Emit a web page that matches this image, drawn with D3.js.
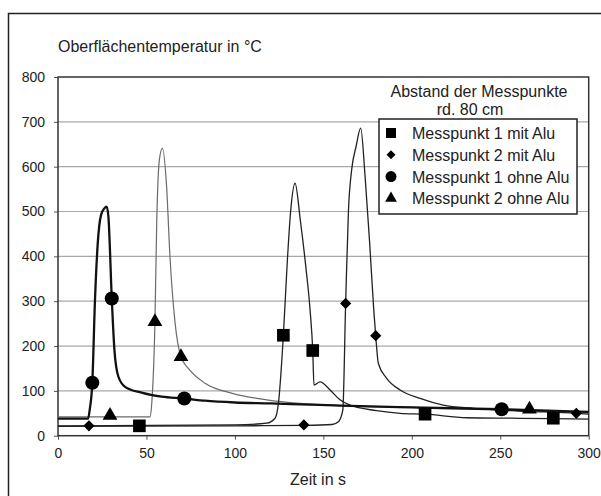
<!DOCTYPE html>
<html><head><meta charset="utf-8">
<script src="https://cdn.jsdelivr.net/npm/d3@7"></script>
<style>
html,body{margin:0;padding:0;background:#fff;}
svg text{font-family:"Liberation Sans",Arial,sans-serif;fill:#222;}
</style>
</head><body>
<svg id="chart" width="601" height="496"></svg>
<script>
// ---- data ----
const xTicks = [0, 50, 100, 150, 200, 250, 300];
const yTicks = [0, 100, 200, 300, 400, 500, 600, 700, 800];
const seriesNames = ["Messpunkt 1 mit Alu", "Messpunkt 2 mit Alu", "Messpunkt 1 ohne Alu", "Messpunkt 2 ohne Alu"];

// Messpunkt 1 mit Alu (squares)
const mp1AluT = [0,100,118,122.7,124.6,127.4,129.5,131.5,134,137,140,142.5,144,144.7,148.1,153.8,159.4,165.1,180,193.4,207.5,231,256.5,280,300];
const mp1AluV = [22,24,28,39,72,224,380,500,563,480,380,280,190,113,120,102,80,68,56,50,48,40,39,38,37];
const mp1AluMarkT = [46,127.4,144,207.5,280];
const mp1AluMarkV = [22,224,190,48,39];

// Messpunkt 2 mit Alu (diamonds)
const mp2AluT = [0,100,140,155,158.5,161,162.6,164.2,166,168.5,171.1,173.6,176.2,178.5,179.6,181.1,185.8,193.4,204.7,217.8,234.8,260,293,300];
const mp2AluV = [21,22,23,25,31,57,295,503,593,645,686,578,429,280,223,161,128,102,83,68,61,55,50,48];
const mp2AluMarkT = [17.5,139,162.6,179.6,293];
const mp2AluMarkV = [22,24,295,223,50];

// Messpunkt 1 ohne Alu (circles)
const mp1OhneT = [0,17,18,19.4,20.9,22.4,24.3,26.2,27.5,28.5,30.4,31.9,34.1,37.9,47.3,58.6,71.4,83,100,120,137,160,200,250,300];
const mp1OhneV = [38,38,60,118,302,425,492,507,511,488,306,191,132,109,96,87,83,78,74,72,70,67,63,59,53];
const mp1OhneMarkT = [19.4,30.4,71.4,250.8];
const mp1OhneMarkV = [118,306,83,59];

// Messpunkt 2 ohne Alu (triangles)
const mp2OhneT = [0,52,53,54.8,55.8,57.3,59,61.4,63.3,66.2,69.5,73.7,83.1,99.1,118,137,160,200,250,300];
const mp2OhneV = [42,42,72,254,474,615,641,555,399,251,176,150,117,94,80,72,67,63,59,51];
const mp2OhneMarkT = [29.4,54.8,69.5,266.5];
const mp2OhneMarkV = [45,254,176,59];

// ---- chart ----
const svg = d3.select("#chart");
const x = d3.scaleLinear().domain([0, 300]).range([58, 588.7]);
const y = d3.scaleLinear().domain([0, 800]).range([435.7, 77]);

// outer frame
svg.append("rect").attr("x", 8.5).attr("y", 13.5).attr("width", 620).attr("height", 520)
  .attr("fill", "none").attr("stroke", "#222").attr("stroke-width", 1.5);

// gridlines
svg.append("g").selectAll("line").data(yTicks.filter(d => d > 0 && d < 800)).join("line")
  .attr("x1", x(0)).attr("x2", x(300)).attr("y1", d => y(d)).attr("y2", d => y(d))
  .attr("stroke", "#a8a8a8").attr("stroke-width", 1.2);

// axes
const xAxis = d3.axisBottom(x).tickValues(xTicks).tickSize(4).tickPadding(8).tickFormat(d3.format("d"));
const yAxis = d3.axisLeft(y).tickValues(yTicks).tickSize(4).tickPadding(9).tickFormat(d3.format("d"));
const gx = svg.append("g").attr("transform", `translate(0,${y(0)})`).call(xAxis);
const gy = svg.append("g").attr("transform", `translate(${x(0)},0)`).call(yAxis);
[gx, gy].forEach(g => {
  g.select(".domain").remove();
  g.selectAll("line").attr("stroke", "#555");
  g.selectAll("text").style("font-size", "14px").style("font-family", '"Liberation Sans",Arial,sans-serif').attr("fill", "#222");
});

// plot border
svg.append("rect").attr("x", x(0)).attr("y", y(800)).attr("width", x(300) - x(0)).attr("height", y(0) - y(800))
  .attr("fill", "none").attr("stroke", "#333").attr("stroke-width", 1.5);

// axis titles
svg.append("text").attr("x", 58).attr("y", 52).style("font-size", "16px").text("Oberflächentemperatur in °C");
svg.append("text").attr("x", 318).attr("y", 485).attr("text-anchor", "middle").style("font-size", "16px").text("Zeit in s");

// lines
const line = d3.line().x(d => x(d[0])).y(d => y(d[1])).curve(d3.curveMonotoneX);
const zip = (a, b) => a.map((t, i) => [t, b[i]]);
const lines = [
  {t: mp2OhneT, v: mp2OhneV, color: "#6a6a6a", w: 1.2},
  {t: mp1AluT, v: mp1AluV, color: "#222", w: 1.3},
  {t: mp2AluT, v: mp2AluV, color: "#222", w: 1.3},
  {t: mp1OhneT, v: mp1OhneV, color: "#111", w: 2.3}
];
svg.append("g").selectAll("path").data(lines).join("path")
  .attr("d", d => line(zip(d.t, d.v)))
  .attr("fill", "none").attr("stroke", d => d.color).attr("stroke-width", d => d.w);

// markers
const sym = {
  square: d3.symbol().type(d3.symbolSquare).size(160),
  diamond: d3.symbol().type(d3.symbolDiamond2).size(80),
  circle: d3.symbol().type(d3.symbolCircle).size(155),
  triangle: d3.symbol().type(d3.symbolTriangle).size(95)
};
const markerSets = [
  {t: mp1AluMarkT, v: mp1AluMarkV, s: sym.square},
  {t: mp2AluMarkT, v: mp2AluMarkV, s: sym.diamond},
  {t: mp1OhneMarkT, v: mp1OhneMarkV, s: sym.circle},
  {t: mp2OhneMarkT, v: mp2OhneMarkV, s: sym.triangle}
];
markerSets.forEach(m => {
  svg.append("g").selectAll("path").data(zip(m.t, m.v)).join("path")
    .attr("transform", d => `translate(${x(d[0])},${y(d[1])})`)
    .attr("d", m.s()).attr("fill", "#000");
});

// legend
svg.append("text").attr("x", 479).attr("y", 97).attr("text-anchor", "middle").style("font-size", "16px").text("Abstand der Messpunkte");
svg.append("text").attr("x", 470).attr("y", 114.5).attr("text-anchor", "middle").style("font-size", "16px").text("rd. 80 cm");
svg.append("rect").attr("x", 379).attr("y", 119).attr("width", 198).attr("height", 95)
  .attr("fill", "#fff").attr("stroke", "#222").attr("stroke-width", 1.5);
const legSyms = [
  d3.symbol().type(d3.symbolSquare).size(100),
  d3.symbol().type(d3.symbolDiamond2).size(52),
  d3.symbol().type(d3.symbolCircle).size(95),
  d3.symbol().type(d3.symbolTriangle).size(60)
];
const lg = svg.append("g").selectAll("g").data(seriesNames).join("g")
  .attr("transform", (d, i) => `translate(0,${133 + i * 21.8})`);
lg.append("path").attr("transform", "translate(391,0)").attr("d", (d, i) => legSyms[i]()).attr("fill", "#000");
lg.append("text").attr("x", 412).attr("y", 6).style("font-size", "16px").text(d => d);
</script>
</body></html>
